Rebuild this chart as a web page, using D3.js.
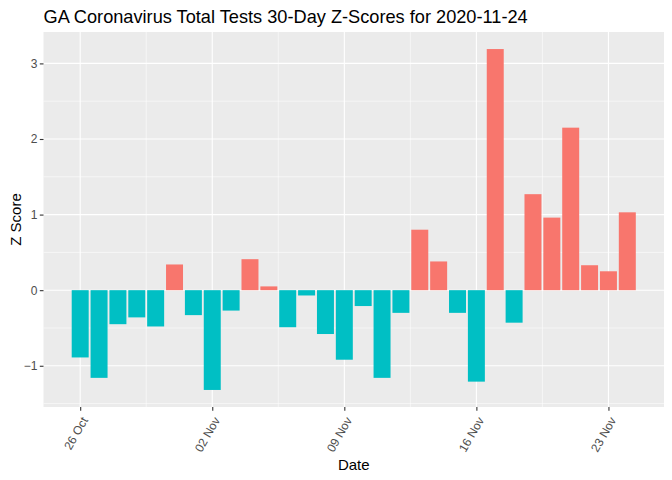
<!DOCTYPE html>
<html><head><meta charset="utf-8">
<script src="https://cdn.jsdelivr.net/npm/d3@7"></script>
<style>body{margin:0;background:#fff}text{font-family:"Liberation Sans",Arial,sans-serif}</style>
</head><body><svg id="c" width="672" height="480"></svg>
<script>
const dates = ["2020-10-26","2020-10-27","2020-10-28","2020-10-29","2020-10-30","2020-10-31","2020-11-01","2020-11-02","2020-11-03","2020-11-04","2020-11-05","2020-11-06","2020-11-07","2020-11-08","2020-11-09","2020-11-10","2020-11-11","2020-11-12","2020-11-13","2020-11-14","2020-11-15","2020-11-16","2020-11-17","2020-11-18","2020-11-19","2020-11-20","2020-11-21","2020-11-22","2020-11-23","2020-11-24"];
const zscores = [-0.89,-1.16,-0.45,-0.36,-0.48,0.34,-0.33,-1.32,-0.27,0.41,0.05,-0.49,-0.07,-0.58,-0.92,-0.21,-1.16,-0.30,0.80,0.38,-0.30,-1.21,3.19,-0.43,1.27,0.96,2.15,0.33,0.25,1.03];
const xTicks = ["2020-10-26","2020-11-02","2020-11-09","2020-11-16","2020-11-23"];
const yTicks = [-1,0,1,2,3];
const yMinor = [-1.5,-0.5,0.5,1.5,2.5];
const title = "GA Coronavirus Total Tests 30-Day Z-Scores for 2020-11-24";

const svg = d3.select("#c");
const P = {l:43.5, r:664, t:32, b:407};
const day = 864e5;
const parse = d3.utcParse("%Y-%m-%d");
const dd = dates.map(parse);
const x0 = +dd[0] - 0.45*day, x1 = +dd[dd.length-1] + 0.45*day;
const xe = (x1-x0)*0.05;
const x = d3.scaleUtc().domain([new Date(x0-xe), new Date(x1+xe)]).range([P.l, P.r]);
const ymin = d3.min(zscores), ymax = d3.max(zscores), ye=(ymax-ymin)*0.05;
const y = d3.scaleLinear().domain([ymin-ye, ymax+ye]).range([P.b, P.t]);

svg.append("rect").attr("x",P.l).attr("y",P.t).attr("width",P.r-P.l).attr("height",P.b-P.t).attr("fill","#EBEBEB");
const g = svg.append("g");
yMinor.forEach(v=>g.append("line").attr("x1",P.l).attr("x2",P.r).attr("y1",y(v)).attr("y2",y(v)).attr("stroke","#fff").attr("stroke-width",0.55));
const xMajor = xTicks.map(parse);
const xMinor = [];
for(let i=-1;i<xMajor.length;i++){ const m = new Date(+parse(xTicks[0]) + (i+0.5)*7*day); if(x(m)>P.l && x(m)<P.r) xMinor.push(m);}
xMinor.forEach(v=>g.append("line").attr("x1",x(v)).attr("x2",x(v)).attr("y1",P.t).attr("y2",P.b).attr("stroke","#fff").attr("stroke-width",0.55));
yTicks.forEach(v=>g.append("line").attr("x1",P.l).attr("x2",P.r).attr("y1",y(v)).attr("y2",y(v)).attr("stroke","#fff").attr("stroke-width",1.1));
xMajor.forEach(v=>g.append("line").attr("x1",x(v)).attr("x2",x(v)).attr("y1",P.t).attr("y2",P.b).attr("stroke","#fff").attr("stroke-width",1.1));

const bw = x(new Date(+dd[0]+0.9*day)) - x(dd[0]);
svg.selectAll("rect.bar").data(zscores).enter().append("rect").attr("class","bar")
  .attr("x",(d,i)=>x(dd[i])-bw/2).attr("width",bw)
  .attr("y",d=>y(Math.max(0,d))).attr("height",d=>Math.abs(y(d)-y(0)))
  .attr("fill",d=>d>0?"#F8766D":"#00BFC4");

const yAxis = d3.axisLeft(y).tickValues(yTicks).tickSize(3.7).tickPadding(2.5).tickFormat(d3.format("d"));
const ya = svg.append("g").attr("transform",`translate(${P.l},0)`).call(yAxis);
ya.select(".domain").remove();
ya.selectAll("line").attr("stroke","#333").attr("stroke-width",1.1);
ya.selectAll("text").attr("fill","#4D4D4D").attr("font-size",12).style("font-family","Liberation Sans, Arial, sans-serif");

const fmt = d3.utcFormat("%d %b");
const xAxis = d3.axisBottom(x).tickValues(xMajor).tickSize(3.7).tickFormat(fmt);
const xa = svg.append("g").attr("transform",`translate(0,${P.b})`).call(xAxis);
xa.select(".domain").remove();
xa.selectAll("line").attr("stroke","#333").attr("stroke-width",1.1);
xa.selectAll("text").attr("fill","#4D4D4D").attr("font-size",12).style("font-family","Liberation Sans, Arial, sans-serif")
  .attr("text-anchor","end").attr("y",0).attr("dy","0.35em")
  .attr("transform","translate(4,11) rotate(-60)");

svg.append("text").attr("x",(P.l+P.r)/2).attr("y",470).attr("text-anchor","middle").attr("font-size",15).attr("fill","#000").text("Date");
svg.append("text").attr("transform",`translate(21,${(P.t+P.b)/2}) rotate(-90)`).attr("text-anchor","middle").attr("font-size",15).attr("fill","#000").text("Z Score");
svg.append("text").attr("x",P.l).attr("y",22.5).attr("font-size",18.2).attr("fill","#000").text(title);
</script></body></html>
